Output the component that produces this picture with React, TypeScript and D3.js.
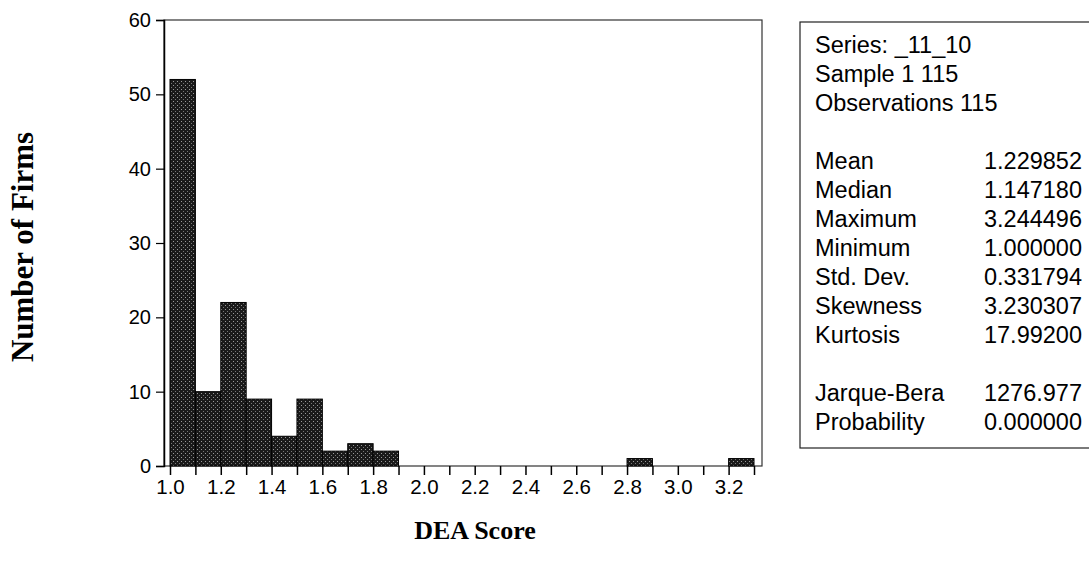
import React, { useEffect, useRef } from "react";
import * as d3 from "d3";

// histogram bins (lower edge of each 0.1 wide bin) and counts
const binStarts = [1.0, 1.1, 1.2, 1.3, 1.4, 1.5, 1.6, 1.7, 1.8, 1.9, 2.0, 2.1, 2.2, 2.3, 2.4, 2.5, 2.6, 2.7, 2.8, 2.9, 3.0, 3.1, 3.2];
const counts = [52, 10, 22, 9, 4, 9, 2, 3, 2, 0, 0, 0, 0, 0, 0, 0, 0, 0, 1, 0, 0, 0, 1];
const xTickLabels = [1.0, 1.2, 1.4, 1.6, 1.8, 2.0, 2.2, 2.4, 2.6, 2.8, 3.0, 3.2];
const yTickLabels = [0, 10, 20, 30, 40, 50, 60];

const headerLines = ["Series: _11_10", "Sample 1 115", "Observations 115"];
const statNames = ["Mean", "Median", "Maximum", "Minimum", "Std. Dev.", "Skewness", "Kurtosis", "", "Jarque-Bera", "Probability"];
const statValues = ["1.229852", "1.147180", "3.244496", "1.000000", "0.331794", "3.230307", "17.99200", "", "1276.977", "0.000000"];

const W = 1089;
const H = 566;

const App = () => {
  const ref = useRef<SVGSVGElement>(null);

  useEffect(() => {
    const svg = d3.select(ref.current);
    svg.selectAll("*").remove();

    const left = 164, right = 762, top = 20, bottom = 466;
    const sans = "'Liberation Sans', Arial, sans-serif";
    const serif = "'Liberation Serif', 'Times New Roman', serif";

    const x = d3.scaleLinear().domain([1.0, 3.3]).range([170, 754]);
    const y = d3.scaleLinear().domain([0, 60]).range([bottom, top]);

    // stipple pattern like the scanned bars
    const defs = svg.append("defs");
    const pat = defs
      .append("pattern")
      .attr("id", "stipple")
      .attr("width", 4)
      .attr("height", 4)
      .attr("patternUnits", "userSpaceOnUse");
    pat.append("rect").attr("width", 4).attr("height", 4).attr("fill", "#1a1a1a");
    pat.append("rect").attr("x", 1).attr("y", 1).attr("width", 1).attr("height", 1).attr("fill", "#9a9a9a");
    pat.append("rect").attr("x", 3).attr("y", 3).attr("width", 1).attr("height", 1).attr("fill", "#777");

    // frame
    svg
      .append("rect")
      .attr("x", left)
      .attr("y", top)
      .attr("width", right - left)
      .attr("height", bottom - top)
      .attr("fill", "none")
      .attr("stroke", "#333")
      .attr("stroke-width", 1.2);

    // bars
    svg
      .append("g")
      .selectAll("rect")
      .data(binStarts.map((b, i) => ({ b, c: counts[i] })).filter((d) => d.c > 0))
      .join("rect")
      .attr("x", (d) => x(d.b))
      .attr("y", (d) => y(d.c))
      .attr("width", (d) => x(d.b + 0.1) - x(d.b))
      .attr("height", (d) => y(0) - y(d.c))
      .attr("fill", "url(#stipple)")
      .attr("stroke", "#000")
      .attr("stroke-width", 1);

    // y axis
    const yAxis = svg
      .append("g")
      .attr("transform", `translate(${left},0)`)
      .call(d3.axisLeft(y).tickValues(yTickLabels).tickSize(8).tickPadding(5).tickFormat(d3.format("d")));
    yAxis.select(".domain").attr("stroke", "#000").attr("stroke-width", 1.5);
    yAxis.selectAll("line").attr("stroke", "#000").attr("stroke-width", 1.2);
    yAxis.selectAll("text").style("font-family", sans).style("font-size", "20px").attr("fill", "#000");

    // x axis: ticks every bin, labels every 0.2
    const allTicks = binStarts.concat([3.3]);
    const xAxis = svg
      .append("g")
      .attr("transform", `translate(0,${bottom})`)
      .call(
        d3
          .axisBottom(x)
          .tickValues(allTicks)
          .tickSize(9)
          .tickPadding(4)
          .tickFormat((d) => (xTickLabels.some((t) => Math.abs(t - +d) < 1e-6) ? d3.format(".1f")(+d) : ""))
      );
    xAxis.select(".domain").remove();
    xAxis.selectAll("line").attr("stroke", "#000").attr("stroke-width", 1.5);
    xAxis.selectAll("text").style("font-family", sans).style("font-size", "20.5px").attr("fill", "#000");

    // axis titles
    svg
      .append("text")
      .attr("transform", `translate(33,${(top + bottom) / 2 + 4}) rotate(-90)`)
      .attr("text-anchor", "middle")
      .style("font-family", serif)
      .style("font-weight", "bold")
      .style("font-size", "31px")
      .text("Number of Firms");

    svg
      .append("text")
      .attr("x", 475)
      .attr("y", 539)
      .attr("text-anchor", "middle")
      .style("font-family", serif)
      .style("font-weight", "bold")
      .style("font-size", "26px")
      .text("DEA Score");

    // statistics box
    svg
      .append("rect")
      .attr("x", 800)
      .attr("y", 22)
      .attr("width", 300)
      .attr("height", 426)
      .attr("fill", "#fff")
      .attr("stroke", "#222")
      .attr("stroke-width", 1.2);

    const lineH = 29;
    const box = svg.append("g").style("font-family", sans).style("font-size", "23.5px");
    headerLines.forEach((t, i) => {
      box.append("text").attr("x", 815).attr("y", 53 + i * lineH).text(t);
    });
    statNames.forEach((t, i) => {
      const yy = 53 + (i + 4) * lineH;
      if (!t) return;
      box.append("text").attr("x", 815).attr("y", yy).text(t);
      box.append("text").attr("x", 1082).attr("y", yy).attr("text-anchor", "end").text(statValues[i]);
    });
  }, []);

  return (
    <svg
      ref={ref}
      width={W}
      height={H}
      style={{ position: "absolute", left: 0, top: 0, background: "#fff" }}
    />
  );
};

export default App;
